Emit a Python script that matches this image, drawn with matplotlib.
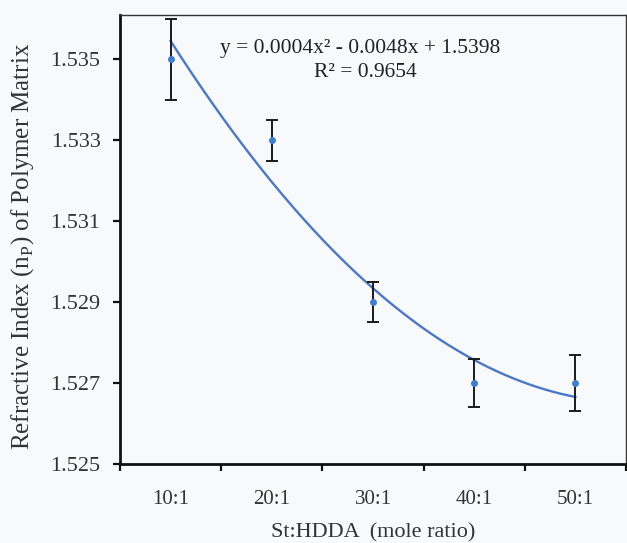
import numpy as np
import matplotlib
matplotlib.use("Agg")
import matplotlib.pyplot as plt
from matplotlib.ticker import FixedLocator

categories = ["10:1", "20:1", "30:1", "40:1", "50:1"]
values = [1.535, 1.533, 1.529, 1.527, 1.527]
errors = [0.001, 0.0005, 0.0005, 0.0006, 0.0007]
yticks = [1.525, 1.527, 1.529, 1.531, 1.533, 1.535]
equation = "y = 0.0004x² - 0.0048x + 1.5398"
r2_text = "R² = 0.9654"

plt.rcParams['font.family'] = ['Liberation Serif', 'DejaVu Serif']
bg = '#f8f9fb'
fig = plt.figure(figsize=(6.27, 5.43), dpi=100, facecolor=bg)
ax = fig.add_axes([0.1914, 0.1455, 0.807, 0.827], facecolor=bg)

xs = np.arange(len(categories))
# polynomial trendline (order 2) fitted on 1..n as in spreadsheet
xn = xs + 1
coef = np.polyfit(xn, values, 2)
xf = np.linspace(1, len(categories), 200)
ax.plot(xf - 1, np.polyval(coef, xf), color='#4a78c8', lw=1.7, zorder=2)

ax.errorbar(xs, values, yerr=errors, fmt='o', ms=4, color='#3f7fd0',
            ecolor='#1a1a1a', elinewidth=1.4, capsize=4, capthick=1.4, zorder=3)

ax.set_xlim(-0.5, len(categories) - 0.5)
ax.set_ylim(1.525, 1.5361)
ax.set_yticks(yticks)
ax.set_yticklabels([f"{v:.3f}" for v in yticks])
ax.set_xticks(xs)
ax.set_xticklabels(categories)
ax.xaxis.set_minor_locator(FixedLocator(np.arange(-0.5, len(categories), 1.0)))
ax.tick_params(axis='x', which='major', length=0, pad=19, labelsize=15, labelcolor='#333333')
ax.tick_params(axis='x', which='minor', length=5, width=1.6, direction='out', color='#111111')
ax.tick_params(axis='y', length=5, width=1.6, direction='out', pad=9, labelsize=16,
               labelcolor='#333333', color='#111111')

for s in ['left', 'bottom']:
    ax.spines[s].set_linewidth(2.0)
    ax.spines[s].set_color('#111111')
for s in ['top', 'right']:
    ax.spines[s].set_linewidth(1.0)
    ax.spines[s].set_color('#333333')

ax.set_xlabel("St:HDDA  (mole ratio)", fontsize=16, color='#333333')
ax.xaxis.set_label_coords(0.5, -0.153)
ax.xaxis.label.set_verticalalignment('center')
ax.set_ylabel("Refractive Index (n$_\\mathregular{P}$) of Polymer Matrix", fontsize=18,
              color='#333333')
ax.yaxis.set_label_coords(-0.1917, 0.4855)
ax.yaxis.label.set_verticalalignment('center')

ax.text(0.474, 0.926, equation, transform=ax.transAxes, ha='center', va='center',
        fontsize=15.5, color='#222222')
ax.text(0.484, 0.872, r2_text, transform=ax.transAxes, ha='center', va='center',
        fontsize=15.5, color='#222222')

fig.savefig("out.png", dpi=100, facecolor=bg)
